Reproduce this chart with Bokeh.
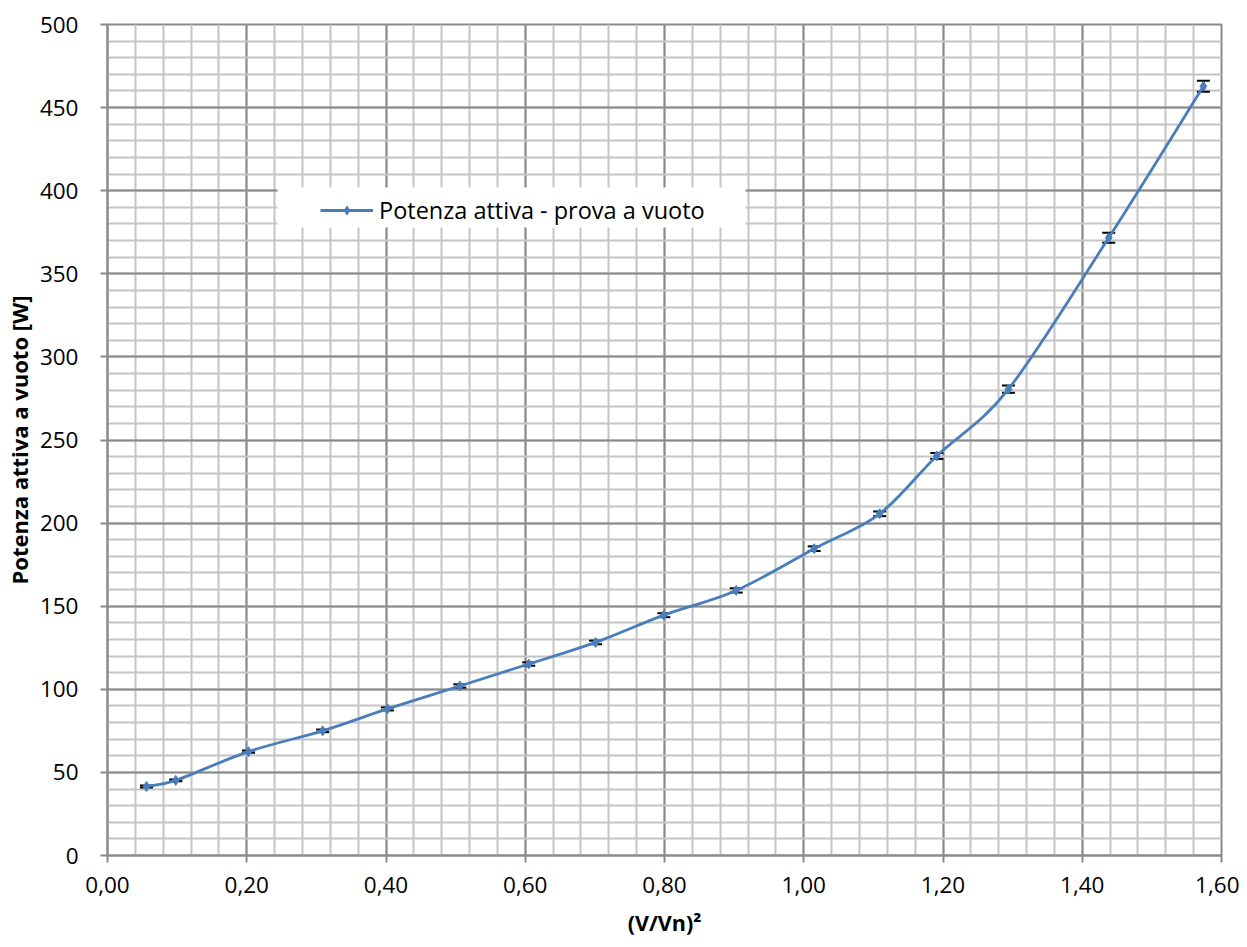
import numpy as np
from bokeh.plotting import figure
from bokeh.models import (ColumnDataSource, FixedTicker, CustomJSTickFormatter, Whisker,
                          TeeHead, Legend, LegendItem, BoxAnnotation, Range1d)
from bokeh.embed import file_html
from bokeh.resources import INLINE

# ---- data ----
v_ratio_sq = [0.056, 0.098, 0.2025, 0.309, 0.402, 0.506, 0.605, 0.701, 0.799, 0.903,
              1.015, 1.109, 1.191, 1.294, 1.438, 1.574]
p_active = [41.5, 45.2, 62.5, 75.0, 88.2, 102.0, 115.2, 128.2, 144.6, 159.5,
            184.6, 205.6, 240.4, 280.6, 371.7, 462.8]
p_err = [0.6, 0.6, 0.7, 0.8, 0.9, 1.0, 1.0, 1.1, 1.2, 1.3, 1.4, 1.4, 1.8, 2.2, 3.0, 3.3]

x_ticks = [0.0, 0.2, 0.4, 0.6, 0.8, 1.0, 1.2, 1.4, 1.6]
y_ticks = [0, 50, 100, 150, 200, 250, 300, 350, 400, 450, 500]
series_name = "Potenza attiva - prova a vuoto"
x_title = "(V/Vn)\u00b2"
y_title = "Potenza attiva a vuoto [W]"

FONT = "Open Sans"
BLUE = "#4A7EBB"
MAJOR = "#8a8a8a"
MINOR = "#c4c4c4"

p = figure(width=1239, height=939, output_backend="svg", toolbar_location=None,
           x_range=Range1d(0, 1.6), y_range=Range1d(0, 500))
p.min_border_left = 107
p.min_border_right = 18
p.min_border_top = 24
p.min_border_bottom = 81
p.outline_line_color = MAJOR
p.outline_line_width = 2
p.background_fill_color = "white"

x_minor = [round(i * 0.04, 4) for i in range(41)]
y_minor = list(range(0, 501, 10))
p.xaxis.ticker = FixedTicker(ticks=x_ticks, minor_ticks=x_minor)
p.yaxis.ticker = FixedTicker(ticks=y_ticks, minor_ticks=y_minor)
p.xaxis.formatter = CustomJSTickFormatter(code="return tick.toFixed(2).replace('.', ',');")

for ax in (p.xaxis[0], p.yaxis[0]):
    ax.axis_line_color = MAJOR
    ax.axis_line_width = 2
    ax.major_tick_line_color = MAJOR
    ax.major_tick_line_width = 2
    ax.major_tick_out = 7
    ax.major_tick_in = 0
    ax.minor_tick_line_color = None
    ax.major_label_text_font = FONT
    ax.major_label_text_font_size = "22.5px"
    ax.major_label_text_color = "black"
    ax.axis_label_text_font = FONT
    ax.axis_label_text_font_style = "bold"
    ax.axis_label_text_color = "black"

p.xaxis.axis_label_text_font_size = "21.5px"
p.yaxis.axis_label_text_font_size = "22px"
p.xaxis.axis_label = x_title
p.yaxis.axis_label = y_title
p.xaxis.major_label_standoff = 14
p.yaxis.major_label_standoff = 22
p.xaxis.axis_label_standoff = 12
p.yaxis.axis_label_standoff = 3

for g in (p.xgrid[0], p.ygrid[0]):
    g.grid_line_color = MAJOR
    g.grid_line_width = 2
    g.minor_grid_line_color = MINOR
    g.minor_grid_line_width = 2
    g.level = "underlay"

# ---- smoothed line (Catmull-Rom style Bezier segments through the data) ----
xs = np.array(v_ratio_sq)
ys = np.array(p_active)
xp = np.concatenate([[xs[0]], xs, [xs[-1]]])
yp = np.concatenate([[ys[0]], ys, [ys[-1]]])
n = len(xs)
bez = ColumnDataSource(dict(
    x0=xs[:-1], y0=ys[:-1], x1=xs[1:], y1=ys[1:],
    cx0=xs[:-1] + (xp[2:n + 1] - xp[0:n - 1]) / 6.0,
    cy0=ys[:-1] + (yp[2:n + 1] - yp[0:n - 1]) / 6.0,
    cx1=xs[1:] - (xp[3:n + 2] - xp[1:n]) / 6.0,
    cy1=ys[1:] - (yp[3:n + 2] - yp[1:n]) / 6.0,
))
bez_r = p.bezier(x0="x0", y0="y0", x1="x1", y1="y1", cx0="cx0", cy0="cy0", cx1="cx1", cy1="cy1",
                 source=bez, line_color=BLUE, line_width=2.8)

src = ColumnDataSource(dict(x=v_ratio_sq, y=p_active,
                            lo=[a - e for a, e in zip(p_active, p_err)],
                            hi=[a + e for a, e in zip(p_active, p_err)]))
p.add_layout(Whisker(source=src, base="x", lower="lo", upper="hi", dimension="height",
                     line_color="black", line_width=2,
                     upper_head=TeeHead(size=13, line_color="black", line_width=2),
                     lower_head=TeeHead(size=13, line_color="black", line_width=2)))
sc = p.scatter("x", "y", source=src, marker="diamond", size=10,
               fill_color=BLUE, line_color=BLUE)

# legend sample line (not data; only used to draw the legend swatch)
leg_line = p.line(x=[np.nan], y=[np.nan], line_color=BLUE, line_width=2.8)
leg_dot = p.scatter(x=[np.nan], y=[np.nan], marker="diamond", size=7,
                    fill_color=BLUE, line_color=BLUE)

box = BoxAnnotation(left=170, right=638, bottom=628, top=668,
                    left_units="screen", right_units="screen",
                    bottom_units="screen", top_units="screen",
                    fill_color="white", fill_alpha=1.0, line_color=None, level="annotation")
p.add_layout(box)

legend = Legend(items=[LegendItem(label=series_name, renderers=[leg_line, leg_dot])],
                location=(213, 629), orientation="vertical",
                background_fill_alpha=0, border_line_color=None,
                padding=3, margin=0, glyph_width=53, glyph_height=22,
                label_standoff=6, label_text_font=FONT, label_text_font_size="23.5px",
                label_text_color="black")
p.add_layout(legend, "center")

open("out.html", "w").write(file_html(p, INLINE))
